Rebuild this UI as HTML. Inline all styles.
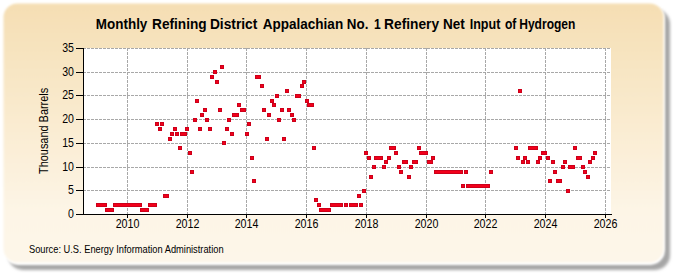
<!DOCTYPE html>
<html><head><meta charset="utf-8"><style>
html,body{margin:0;padding:0;background:#fff;width:675px;height:275px;overflow:hidden;}
svg{display:block;}
</style></head><body>
<svg width="675" height="275" viewBox="0 0 675 275">
<defs>
<linearGradient id="bg" x1="0" y1="0" x2="0" y2="1">
<stop offset="0" stop-color="#F5DEB3"/>
<stop offset="0.8" stop-color="#FDF5E6"/>
<stop offset="1" stop-color="#FDF6E9"/>
</linearGradient>
<filter id="sh" x="-10%" y="-10%" width="120%" height="120%"><feGaussianBlur stdDeviation="1.7"/></filter>
<filter id="soft" x="-5%" y="-5%" width="110%" height="110%"><feGaussianBlur stdDeviation="0.8"/></filter>
</defs>
<rect x="8" y="9" width="662" height="261" rx="15" ry="15" fill="#A6A6A6" filter="url(#sh)"/>
<rect x="3" y="3" width="662" height="262" rx="15" ry="15" fill="#FFFFFF" filter="url(#soft)"/>
<rect x="3.5" y="3.5" width="660" height="259" rx="14" ry="14" fill="url(#bg)" filter="url(#soft)"/>
<rect x="84" y="48" width="527" height="166" fill="#FFFFFF"/>
<g stroke="#A8A8A8" stroke-width="1" stroke-dasharray="3,1" shape-rendering="crispEdges"><line x1="84" y1="48.5" x2="611" y2="48.5" stroke-dashoffset="1"/><line x1="84" y1="72.5" x2="611" y2="72.5" stroke-dashoffset="1"/><line x1="84" y1="95.5" x2="611" y2="95.5" stroke-dashoffset="1"/><line x1="84" y1="119.5" x2="611" y2="119.5" stroke-dashoffset="1"/><line x1="84" y1="143.5" x2="611" y2="143.5" stroke-dashoffset="1"/><line x1="84" y1="167.5" x2="611" y2="167.5" stroke-dashoffset="1"/><line x1="84" y1="190.5" x2="611" y2="190.5" stroke-dashoffset="1"/><line x1="127.5" y1="48" x2="127.5" y2="214"/><line x1="187.5" y1="48" x2="187.5" y2="214"/><line x1="246.5" y1="48" x2="246.5" y2="214"/><line x1="306.5" y1="48" x2="306.5" y2="214"/><line x1="366.5" y1="48" x2="366.5" y2="214"/><line x1="426.5" y1="48" x2="426.5" y2="214"/><line x1="485.5" y1="48" x2="485.5" y2="214"/><line x1="545.5" y1="48" x2="545.5" y2="214"/><line x1="605.5" y1="48" x2="605.5" y2="214"/></g>
<g stroke="#000" stroke-width="1" shape-rendering="crispEdges">
<line x1="83.5" y1="48" x2="83.5" y2="215"/>
<line x1="83" y1="214.5" x2="612" y2="214.5"/>
<line x1="76" y1="48.5" x2="83" y2="48.5"/>
<line x1="76" y1="72.5" x2="83" y2="72.5"/>
<line x1="76" y1="95.5" x2="83" y2="95.5"/>
<line x1="76" y1="119.5" x2="83" y2="119.5"/>
<line x1="76" y1="143.5" x2="83" y2="143.5"/>
<line x1="76" y1="167.5" x2="83" y2="167.5"/>
<line x1="76" y1="190.5" x2="83" y2="190.5"/>
<line x1="76" y1="214.5" x2="83" y2="214.5"/>
<line x1="127.5" y1="215" x2="127.5" y2="218"/>
<line x1="187.5" y1="215" x2="187.5" y2="218"/>
<line x1="246.5" y1="215" x2="246.5" y2="218"/>
<line x1="306.5" y1="215" x2="306.5" y2="218"/>
<line x1="366.5" y1="215" x2="366.5" y2="218"/>
<line x1="426.5" y1="215" x2="426.5" y2="218"/>
<line x1="485.5" y1="215" x2="485.5" y2="218"/>
<line x1="545.5" y1="215" x2="545.5" y2="218"/>
<line x1="605.5" y1="215" x2="605.5" y2="218"/>
</g>
<g fill="#CC001A" shape-rendering="crispEdges"><rect x="96" y="203" width="4" height="4"/><rect x="98" y="203" width="4" height="4"/><rect x="100" y="203" width="4" height="4"/><rect x="103" y="203" width="4" height="4"/><rect x="105" y="208" width="4" height="4"/><rect x="108" y="208" width="4" height="4"/><rect x="110" y="208" width="4" height="4"/><rect x="113" y="203" width="4" height="4"/><rect x="116" y="203" width="4" height="4"/><rect x="118" y="203" width="4" height="4"/><rect x="121" y="203" width="4" height="4"/><rect x="123" y="203" width="4" height="4"/><rect x="125" y="203" width="4" height="4"/><rect x="128" y="203" width="4" height="4"/><rect x="130" y="203" width="4" height="4"/><rect x="133" y="203" width="4" height="4"/><rect x="135" y="203" width="4" height="4"/><rect x="138" y="203" width="4" height="4"/><rect x="140" y="208" width="4" height="4"/><rect x="143" y="208" width="4" height="4"/><rect x="145" y="208" width="4" height="4"/><rect x="148" y="203" width="4" height="4"/><rect x="150" y="203" width="4" height="4"/><rect x="153" y="203" width="4" height="4"/><rect x="155" y="122" width="4" height="4"/><rect x="158" y="127" width="4" height="4"/><rect x="160" y="122" width="4" height="4"/><rect x="163" y="194" width="4" height="4"/><rect x="165" y="194" width="4" height="4"/><rect x="168" y="137" width="4" height="4"/><rect x="170" y="132" width="4" height="4"/><rect x="173" y="127" width="4" height="4"/><rect x="175" y="132" width="4" height="4"/><rect x="178" y="146" width="4" height="4"/><rect x="180" y="132" width="4" height="4"/><rect x="183" y="132" width="4" height="4"/><rect x="185" y="127" width="4" height="4"/><rect x="188" y="151" width="4" height="4"/><rect x="190" y="170" width="4" height="4"/><rect x="193" y="118" width="4" height="4"/><rect x="195" y="99" width="4" height="4"/><rect x="198" y="127" width="4" height="4"/><rect x="200" y="113" width="4" height="4"/><rect x="203" y="108" width="4" height="4"/><rect x="205" y="118" width="4" height="4"/><rect x="208" y="127" width="4" height="4"/><rect x="210" y="75" width="4" height="4"/><rect x="213" y="70" width="4" height="4"/><rect x="215" y="80" width="4" height="4"/><rect x="218" y="108" width="4" height="4"/><rect x="220" y="65" width="4" height="4"/><rect x="222" y="141" width="4" height="4"/><rect x="225" y="127" width="4" height="4"/><rect x="227" y="118" width="4" height="4"/><rect x="230" y="132" width="4" height="4"/><rect x="232" y="113" width="4" height="4"/><rect x="235" y="113" width="4" height="4"/><rect x="237" y="103" width="4" height="4"/><rect x="240" y="108" width="4" height="4"/><rect x="242" y="108" width="4" height="4"/><rect x="245" y="132" width="4" height="4"/><rect x="247" y="122" width="4" height="4"/><rect x="250" y="156" width="4" height="4"/><rect x="252" y="179" width="4" height="4"/><rect x="255" y="75" width="4" height="4"/><rect x="257" y="75" width="4" height="4"/><rect x="260" y="84" width="4" height="4"/><rect x="262" y="108" width="4" height="4"/><rect x="265" y="137" width="4" height="4"/><rect x="267" y="113" width="4" height="4"/><rect x="270" y="99" width="4" height="4"/><rect x="272" y="103" width="4" height="4"/><rect x="275" y="94" width="4" height="4"/><rect x="277" y="118" width="4" height="4"/><rect x="280" y="108" width="4" height="4"/><rect x="282" y="137" width="4" height="4"/><rect x="285" y="89" width="4" height="4"/><rect x="287" y="108" width="4" height="4"/><rect x="290" y="113" width="4" height="4"/><rect x="292" y="118" width="4" height="4"/><rect x="295" y="94" width="4" height="4"/><rect x="297" y="94" width="4" height="4"/><rect x="300" y="84" width="4" height="4"/><rect x="302" y="80" width="4" height="4"/><rect x="305" y="99" width="4" height="4"/><rect x="307" y="103" width="4" height="4"/><rect x="310" y="103" width="4" height="4"/><rect x="312" y="146" width="4" height="4"/><rect x="314" y="198" width="4" height="4"/><rect x="317" y="203" width="4" height="4"/><rect x="319" y="208" width="4" height="4"/><rect x="322" y="208" width="4" height="4"/><rect x="325" y="208" width="4" height="4"/><rect x="327" y="208" width="4" height="4"/><rect x="330" y="203" width="4" height="4"/><rect x="332" y="203" width="4" height="4"/><rect x="335" y="203" width="4" height="4"/><rect x="337" y="203" width="4" height="4"/><rect x="339" y="203" width="4" height="4"/><rect x="344" y="203" width="4" height="4"/><rect x="349" y="203" width="4" height="4"/><rect x="352" y="203" width="4" height="4"/><rect x="354" y="203" width="4" height="4"/><rect x="357" y="194" width="4" height="4"/><rect x="359" y="203" width="4" height="4"/><rect x="362" y="189" width="4" height="4"/><rect x="364" y="151" width="4" height="4"/><rect x="367" y="156" width="4" height="4"/><rect x="369" y="175" width="4" height="4"/><rect x="372" y="165" width="4" height="4"/><rect x="374" y="156" width="4" height="4"/><rect x="377" y="156" width="4" height="4"/><rect x="379" y="156" width="4" height="4"/><rect x="382" y="165" width="4" height="4"/><rect x="384" y="160" width="4" height="4"/><rect x="387" y="156" width="4" height="4"/><rect x="389" y="146" width="4" height="4"/><rect x="392" y="146" width="4" height="4"/><rect x="394" y="151" width="4" height="4"/><rect x="397" y="165" width="4" height="4"/><rect x="399" y="170" width="4" height="4"/><rect x="402" y="160" width="4" height="4"/><rect x="404" y="160" width="4" height="4"/><rect x="407" y="175" width="4" height="4"/><rect x="409" y="165" width="4" height="4"/><rect x="412" y="160" width="4" height="4"/><rect x="414" y="160" width="4" height="4"/><rect x="417" y="146" width="4" height="4"/><rect x="419" y="151" width="4" height="4"/><rect x="422" y="151" width="4" height="4"/><rect x="424" y="151" width="4" height="4"/><rect x="427" y="160" width="4" height="4"/><rect x="429" y="160" width="4" height="4"/><rect x="431" y="156" width="4" height="4"/><rect x="434" y="170" width="4" height="4"/><rect x="436" y="170" width="4" height="4"/><rect x="439" y="170" width="4" height="4"/><rect x="441" y="170" width="4" height="4"/><rect x="444" y="170" width="4" height="4"/><rect x="446" y="170" width="4" height="4"/><rect x="449" y="170" width="4" height="4"/><rect x="451" y="170" width="4" height="4"/><rect x="454" y="170" width="4" height="4"/><rect x="456" y="170" width="4" height="4"/><rect x="459" y="170" width="4" height="4"/><rect x="461" y="184" width="4" height="4"/><rect x="464" y="170" width="4" height="4"/><rect x="466" y="184" width="4" height="4"/><rect x="469" y="184" width="4" height="4"/><rect x="471" y="184" width="4" height="4"/><rect x="474" y="184" width="4" height="4"/><rect x="476" y="184" width="4" height="4"/><rect x="479" y="184" width="4" height="4"/><rect x="481" y="184" width="4" height="4"/><rect x="484" y="184" width="4" height="4"/><rect x="486" y="184" width="4" height="4"/><rect x="489" y="170" width="4" height="4"/><rect x="514" y="146" width="4" height="4"/><rect x="516" y="156" width="4" height="4"/><rect x="518" y="89" width="4" height="4"/><rect x="521" y="160" width="4" height="4"/><rect x="523" y="156" width="4" height="4"/><rect x="526" y="160" width="4" height="4"/><rect x="528" y="146" width="4" height="4"/><rect x="531" y="146" width="4" height="4"/><rect x="534" y="146" width="4" height="4"/><rect x="536" y="160" width="4" height="4"/><rect x="538" y="156" width="4" height="4"/><rect x="541" y="151" width="4" height="4"/><rect x="543" y="151" width="4" height="4"/><rect x="546" y="156" width="4" height="4"/><rect x="548" y="179" width="4" height="4"/><rect x="551" y="160" width="4" height="4"/><rect x="553" y="170" width="4" height="4"/><rect x="556" y="179" width="4" height="4"/><rect x="558" y="179" width="4" height="4"/><rect x="561" y="165" width="4" height="4"/><rect x="563" y="160" width="4" height="4"/><rect x="566" y="189" width="4" height="4"/><rect x="568" y="165" width="4" height="4"/><rect x="571" y="165" width="4" height="4"/><rect x="573" y="146" width="4" height="4"/><rect x="576" y="156" width="4" height="4"/><rect x="578" y="156" width="4" height="4"/><rect x="581" y="165" width="4" height="4"/><rect x="583" y="170" width="4" height="4"/><rect x="586" y="175" width="4" height="4"/><rect x="588" y="160" width="4" height="4"/><rect x="591" y="156" width="4" height="4"/><rect x="593" y="151" width="4" height="4"/></g>
<g fill="#F2001A" shape-rendering="crispEdges"><rect x="97" y="204" width="9" height="2"/><rect x="106" y="209" width="7" height="2"/><rect x="114" y="204" width="27" height="2"/><rect x="141" y="209" width="7" height="2"/><rect x="149" y="204" width="7" height="2"/><rect x="156" y="123" width="2" height="2"/><rect x="159" y="128" width="2" height="2"/><rect x="161" y="123" width="2" height="2"/><rect x="164" y="195" width="4" height="2"/><rect x="169" y="138" width="2" height="2"/><rect x="171" y="133" width="2" height="2"/><rect x="174" y="128" width="2" height="2"/><rect x="176" y="133" width="2" height="2"/><rect x="179" y="147" width="2" height="2"/><rect x="181" y="133" width="5" height="2"/><rect x="186" y="128" width="2" height="2"/><rect x="189" y="152" width="2" height="2"/><rect x="191" y="171" width="2" height="2"/><rect x="194" y="119" width="2" height="2"/><rect x="196" y="100" width="2" height="2"/><rect x="199" y="128" width="2" height="2"/><rect x="201" y="114" width="2" height="2"/><rect x="204" y="109" width="2" height="2"/><rect x="206" y="119" width="2" height="2"/><rect x="209" y="128" width="2" height="2"/><rect x="211" y="76" width="2" height="2"/><rect x="214" y="71" width="2" height="2"/><rect x="216" y="81" width="2" height="2"/><rect x="219" y="109" width="2" height="2"/><rect x="221" y="66" width="2" height="2"/><rect x="223" y="142" width="2" height="2"/><rect x="226" y="128" width="2" height="2"/><rect x="228" y="119" width="2" height="2"/><rect x="231" y="133" width="2" height="2"/><rect x="233" y="114" width="5" height="2"/><rect x="238" y="104" width="2" height="2"/><rect x="241" y="109" width="4" height="2"/><rect x="246" y="133" width="2" height="2"/><rect x="248" y="123" width="2" height="2"/><rect x="251" y="157" width="2" height="2"/><rect x="253" y="180" width="2" height="2"/><rect x="256" y="76" width="4" height="2"/><rect x="261" y="85" width="2" height="2"/><rect x="263" y="109" width="2" height="2"/><rect x="266" y="138" width="2" height="2"/><rect x="268" y="114" width="2" height="2"/><rect x="271" y="100" width="2" height="2"/><rect x="273" y="104" width="2" height="2"/><rect x="276" y="95" width="2" height="2"/><rect x="278" y="119" width="2" height="2"/><rect x="281" y="109" width="2" height="2"/><rect x="283" y="138" width="2" height="2"/><rect x="286" y="90" width="2" height="2"/><rect x="288" y="109" width="2" height="2"/><rect x="291" y="114" width="2" height="2"/><rect x="293" y="119" width="2" height="2"/><rect x="296" y="95" width="4" height="2"/><rect x="301" y="85" width="2" height="2"/><rect x="303" y="81" width="2" height="2"/><rect x="306" y="100" width="2" height="2"/><rect x="308" y="104" width="5" height="2"/><rect x="313" y="147" width="2" height="2"/><rect x="315" y="199" width="2" height="2"/><rect x="318" y="204" width="2" height="2"/><rect x="320" y="209" width="10" height="2"/><rect x="331" y="204" width="11" height="2"/><rect x="345" y="204" width="2" height="2"/><rect x="350" y="204" width="7" height="2"/><rect x="358" y="195" width="2" height="2"/><rect x="360" y="204" width="2" height="2"/><rect x="363" y="190" width="2" height="2"/><rect x="365" y="152" width="2" height="2"/><rect x="368" y="157" width="2" height="2"/><rect x="370" y="176" width="2" height="2"/><rect x="373" y="166" width="2" height="2"/><rect x="375" y="157" width="7" height="2"/><rect x="383" y="166" width="2" height="2"/><rect x="385" y="161" width="2" height="2"/><rect x="388" y="157" width="2" height="2"/><rect x="390" y="147" width="5" height="2"/><rect x="395" y="152" width="2" height="2"/><rect x="398" y="166" width="2" height="2"/><rect x="400" y="171" width="2" height="2"/><rect x="403" y="161" width="4" height="2"/><rect x="408" y="176" width="2" height="2"/><rect x="410" y="166" width="2" height="2"/><rect x="413" y="161" width="4" height="2"/><rect x="418" y="147" width="2" height="2"/><rect x="420" y="152" width="7" height="2"/><rect x="428" y="161" width="4" height="2"/><rect x="432" y="157" width="2" height="2"/><rect x="435" y="171" width="27" height="2"/><rect x="462" y="185" width="2" height="2"/><rect x="465" y="171" width="2" height="2"/><rect x="467" y="185" width="22" height="2"/><rect x="490" y="171" width="2" height="2"/><rect x="515" y="147" width="2" height="2"/><rect x="517" y="157" width="2" height="2"/><rect x="519" y="90" width="2" height="2"/><rect x="522" y="161" width="2" height="2"/><rect x="524" y="157" width="2" height="2"/><rect x="527" y="161" width="2" height="2"/><rect x="529" y="147" width="8" height="2"/><rect x="537" y="161" width="2" height="2"/><rect x="539" y="157" width="2" height="2"/><rect x="542" y="152" width="4" height="2"/><rect x="547" y="157" width="2" height="2"/><rect x="549" y="180" width="2" height="2"/><rect x="552" y="161" width="2" height="2"/><rect x="554" y="171" width="2" height="2"/><rect x="557" y="180" width="4" height="2"/><rect x="562" y="166" width="2" height="2"/><rect x="564" y="161" width="2" height="2"/><rect x="567" y="190" width="2" height="2"/><rect x="569" y="166" width="5" height="2"/><rect x="574" y="147" width="2" height="2"/><rect x="577" y="157" width="4" height="2"/><rect x="582" y="166" width="2" height="2"/><rect x="584" y="171" width="2" height="2"/><rect x="587" y="176" width="2" height="2"/><rect x="589" y="161" width="2" height="2"/><rect x="592" y="157" width="2" height="2"/><rect x="594" y="152" width="2" height="2"/></g>
<g font-family="Liberation Sans, sans-serif" font-size="12" fill="#000">
<text transform="translate(74,52.3) scale(0.88,1)" text-anchor="end">35</text>
<text transform="translate(74,76.3) scale(0.88,1)" text-anchor="end">30</text>
<text transform="translate(74,99.3) scale(0.88,1)" text-anchor="end">25</text>
<text transform="translate(74,123.3) scale(0.88,1)" text-anchor="end">20</text>
<text transform="translate(74,147.3) scale(0.88,1)" text-anchor="end">15</text>
<text transform="translate(74,171.3) scale(0.88,1)" text-anchor="end">10</text>
<text transform="translate(74,194.3) scale(0.88,1)" text-anchor="end">5</text>
<text transform="translate(74,218.3) scale(0.88,1)" text-anchor="end">0</text>
<text transform="translate(127.5,228) scale(0.89,1)" text-anchor="middle">2010</text>
<text transform="translate(187.5,228) scale(0.89,1)" text-anchor="middle">2012</text>
<text transform="translate(246.5,228) scale(0.89,1)" text-anchor="middle">2014</text>
<text transform="translate(306.5,228) scale(0.89,1)" text-anchor="middle">2016</text>
<text transform="translate(366.5,228) scale(0.89,1)" text-anchor="middle">2018</text>
<text transform="translate(426.5,228) scale(0.89,1)" text-anchor="middle">2020</text>
<text transform="translate(485.5,228) scale(0.89,1)" text-anchor="middle">2022</text>
<text transform="translate(545.5,228) scale(0.89,1)" text-anchor="middle">2024</text>
<text transform="translate(605.5,228) scale(0.89,1)" text-anchor="middle">2026</text>
</g>
<text transform="translate(48,130.9) rotate(-90) scale(0.875,1)" text-anchor="middle" font-family="Liberation Sans, sans-serif" font-size="12.5" fill="#000">Thousand Barrels</text>
<g font-family="Liberation Sans, sans-serif" font-size="14" font-weight="bold" fill="#000"><text transform="translate(95.84,28.8) scale(0.960,1)">Monthly</text><text transform="translate(152.02,28.8) scale(0.976,1)">Refining</text><text transform="translate(209.92,28.8) scale(0.983,1)">District</text><text transform="translate(262.70,28.8) scale(0.967,1)">Appalachian</text><text transform="translate(346.84,28.8) scale(0.957,1)">No.</text><text transform="translate(373.94,28.8) scale(0.860,1)">1</text><text transform="translate(384.12,28.8) scale(0.982,1)">Refinery</text><text transform="translate(442.93,28.8) scale(0.968,1)">Net</text><text transform="translate(469.70,28.8) scale(0.897,1)">Input</text><text transform="translate(505.00,28.8) scale(0.860,1)">of</text><text transform="translate(519.24,28.8) scale(0.860,1)">Hydrogen</text></g>
<text transform="translate(29,252.8) scale(0.93,1)" font-family="Liberation Sans, sans-serif" font-size="10" fill="#000">Source: U.S. Energy Information Administration</text>
</svg>
</body></html>
